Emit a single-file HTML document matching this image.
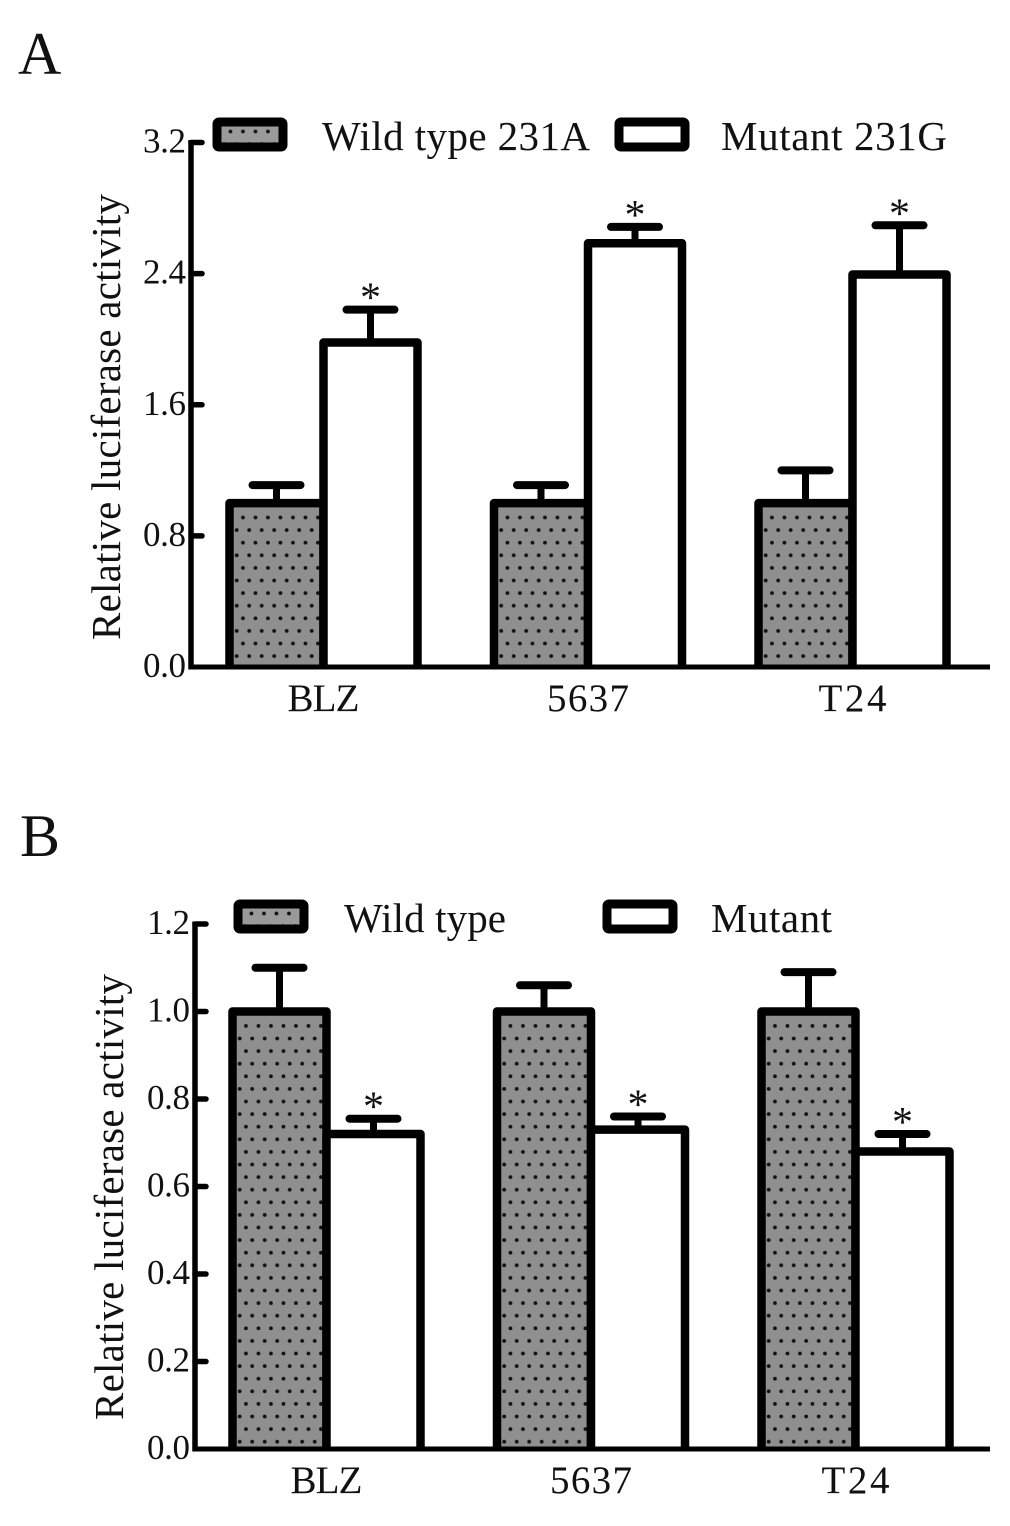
<!DOCTYPE html>
<html lang="en">
<head>
<meta charset="utf-8">
<title>Relative luciferase activity</title>
<style>
html,body{margin:0;padding:0;background:#fff;width:1010px;height:1526px;overflow:hidden}
svg{display:block}
text{font-family:"Liberation Serif",serif;fill:#111}
</style>
</head>
<body>
<svg id="figure" width="1010" height="1526" viewBox="0 0 1010 1526" xmlns="http://www.w3.org/2000/svg">
<defs id="pattern-defs"></defs>
</svg>
<script>
const categories = ['BLZ', '5637', 'T24'];
const wildA = [1.0, 1.0, 1.0];
const wildErrA = [0.11, 0.11, 0.2];
const mutantA = [1.98, 2.585, 2.395];
const mutantErrA = [0.2, 0.1, 0.3];
const ticksA = ['0.0', '0.8', '1.6', '2.4', '3.2'];
const wildB = [1.0, 1.0, 1.0];
const wildErrB = [0.1, 0.06, 0.09];
const mutantB = [0.72, 0.73, 0.68];
const mutantErrB = [0.035, 0.03, 0.04];
const ticksB = ['0.0', '0.2', '0.4', '0.6', '0.8', '1.0', '1.2'];

const NS = 'http://www.w3.org/2000/svg';
const svg = document.getElementById('figure');
const defs = document.getElementById('pattern-defs');
let patternCount = 0;

function node(tag, attrs, parent) {
  const el = document.createElementNS(NS, tag);
  for (const k in attrs) el.setAttribute(k, attrs[k]);
  parent.appendChild(el);
  return el;
}

function label(parent, str, x, y, size, len, anchor) {
  const el = node('text', {x: x, y: y, 'font-size': size, 'text-anchor': anchor || 'start'}, parent);
  if (len) {
    el.setAttribute('textLength', len);
    el.setAttribute('lengthAdjust', 'spacing');
  }
  el.textContent = str;
  return el;
}

// Stippled fill: rows 12.6px apart, dots 12.5px apart, alternate rows staggered.
function dotPattern(dotX, dotY, base) {
  const id = 'dots-' + (patternCount++);
  const pat = node('pattern', {id: id, patternUnits: 'userSpaceOnUse', width: 12.5, height: 25.2, x: dotX - 3, y: dotY - 3}, defs);
  node('rect', {width: 12.5, height: 25.2, fill: base}, pat);
  node('circle', {cx: 3, cy: 3, r: 1.9, fill: '#111'}, pat);
  node('circle', {cx: 9.25, cy: 15.6, r: 1.9, fill: '#111'}, pat);
  return 'url(#' + id + ')';
}

function drawPanel(p) {
  const g = node('g', {}, svg);
  
  
  const maxV = parseFloat(p.ticks[p.ticks.length - 1]);
  const yScale = v => p.y0 - (v / maxV) * (p.y0 - p.yTop);
  const xScale = (i, s) => p.x0 + i * p.groupStep + s * p.barW;

  // panel letter
  const letter = label(g, p.letter, p.letterX, p.letterY, 60);
  
  

  // bars, error bars and significance stars
  const series = [
    {vals: p.wild, errs: p.wildErr, key: 'wild', s: 0},
    {vals: p.mutant, errs: p.mutantErr, key: 'mutant', s: 1}
  ];
  series.forEach(ser => {
    ser.vals.forEach((v, i) => {
      const left = xScale(i, ser.s);
      const cx = left + p.barW / 2;
      const top = yScale(v);
      const capY = yScale(v + ser.errs[i]);

      const stem = node('line', {x1: cx, x2: cx, y1: top, y2: capY, stroke: '#000', 'stroke-width': 7}, g);
      
      
      const cap = node('line', {x1: cx - 24, x2: cx + 24, y1: capY, y2: capY, stroke: '#000', 'stroke-width': 8, 'stroke-linecap': 'round'}, g);
      
      

      const fill = ser.key === 'wild' ? dotPattern(left + 7.2, top + 27, '#8f8f8f') : '#fff';
      const bar = node('path', {
        d: 'M' + left + ' ' + p.y0 + 'V' + top + 'H' + (left + p.barW) + 'V' + p.y0,
        fill: fill, stroke: '#000', 'stroke-width': 8.5, 'stroke-linejoin': 'round'
      }, g);
      
      

      if (ser.key === p.starSeries) {
        const star = label(g, '*', cx, capY + 2, 42, 0, 'middle');
        
        
      }
    });
  });

  // y axis
  const yAxis = node('line', {x1: p.axisX, x2: p.axisX, y1: p.yTop - 2.5, y2: p.y0 + 2.5, stroke: '#000', 'stroke-width': 5.5}, g);
  
  
  p.ticks.forEach(t => {
    const v = parseFloat(t);
    const y = yScale(v);
    if (v > 0) {
      const tick = node('line', {x1: p.axisX, x2: p.axisX + 11, y1: y, y2: y, stroke: '#000', 'stroke-width': 5.5, 'stroke-linecap': 'round'}, g);
      
      
    }
    const tl = label(g, t, p.axisX - 5, y + 10, 35, 43, 'end');
    
    
  });

  // x axis
  const xAxis = node('line', {x1: p.axisX - 2.5, x2: 990, y1: p.y0, y2: p.y0, stroke: '#000', 'stroke-width': 5}, g);
  
  
  categories.forEach((c, i) => {
    const cl = label(g, c, xScale(i, 1), p.y0 + 44, 39, c === '5637' ? 82 : (c === 'T24' ? 68 : 72), 'middle');
    
    
  });

  // y axis title
  const yTitle = label(g, 'Relative luciferase activity', 0, 0, 41, p.titleLen, 'middle');
  yTitle.setAttribute('transform', 'translate(' + p.titleX + ' ' + p.titleY + ') rotate(-90)');
  
  

  // legend
  p.legend.forEach((l, i) => {
    const fill = i === 0 ? dotPattern(l.sx + 7.2, p.legendY + 12.5 - 15.6, '#9a9a9a') : '#fff';
    const sw = node('rect', {x: l.sx, y: p.legendY, width: 66, height: 25, rx: 2, fill: fill, stroke: '#000', 'stroke-width': 9, 'stroke-linejoin': 'round'}, g);
    
    
    const lt = label(g, l.text, l.tx, p.legendY + 28, 41, l.len);
    
    
  });
}

drawPanel({
  name: 'panel-a', letter: 'A', letterX: 18, letterY: 74,
  wild: wildA, wildErr: wildErrA, mutant: mutantA, mutantErr: mutantErrA, ticks: ticksA,
  starSeries: 'mutant', axisX: 191, y0: 667, yTop: 142.5, x0: 229.5, barW: 94, groupStep: 264.5,
  titleX: 120, titleY: 417, titleLen: 446, legendY: 122,
  legend: [
    {sx: 217, tx: 322, text: 'Wild type 231A', len: 268},
    {sx: 619, tx: 721, text: 'Mutant 231G', len: 226}
  ]
});
drawPanel({
  name: 'panel-b', letter: 'B', letterX: 20, letterY: 856,
  wild: wildB, wildErr: wildErrB, mutant: mutantB, mutantErr: mutantErrB, ticks: ticksB,
  starSeries: 'mutant', axisX: 195, y0: 1449, yTop: 924, x0: 232.5, barW: 94, groupStep: 264.5,
  titleX: 123, titleY: 1197, titleLen: 446, legendY: 904,
  legend: [
    {sx: 238, tx: 344, text: 'Wild type', len: 162},
    {sx: 607, tx: 711, text: 'Mutant', len: 121}
  ]
});
</script>
</body>
</html>
